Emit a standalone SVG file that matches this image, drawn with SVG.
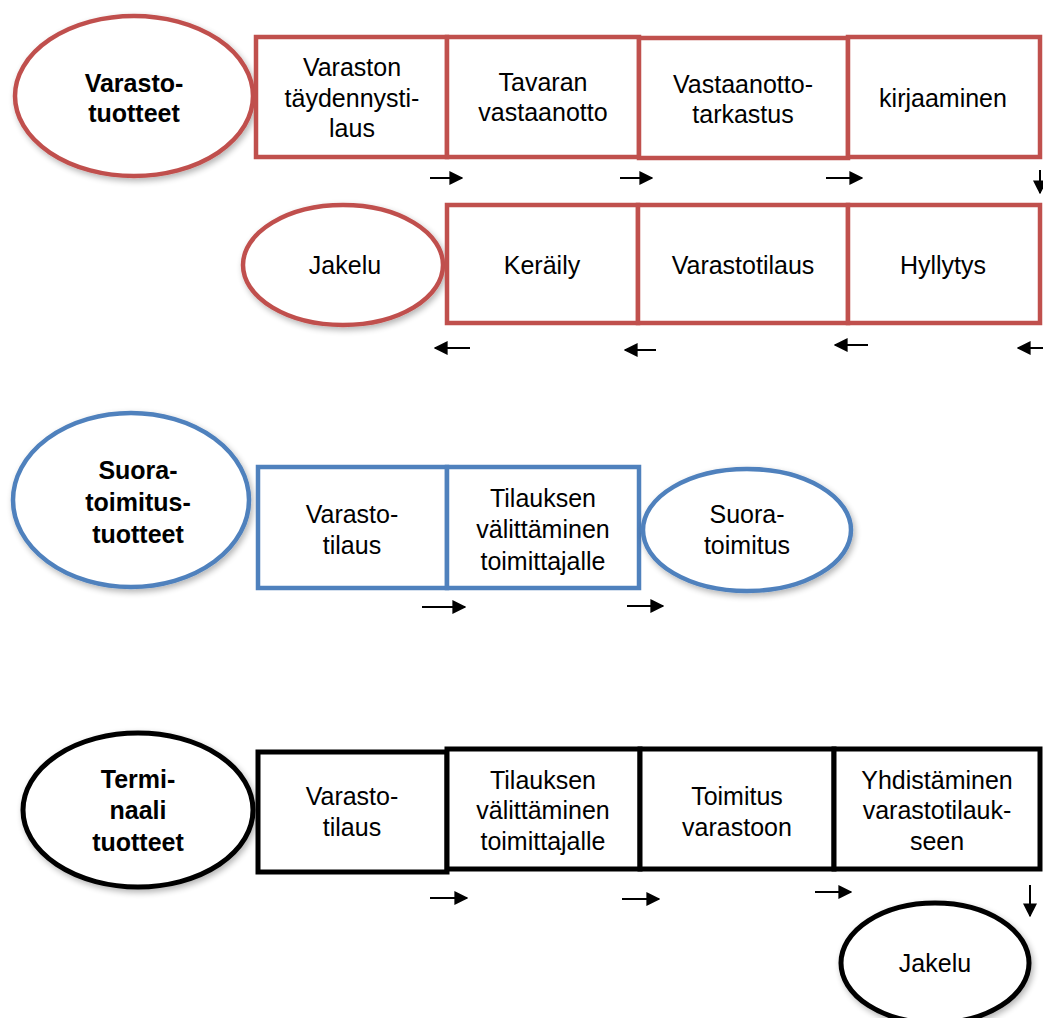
<svg xmlns="http://www.w3.org/2000/svg" width="1043" height="1018" viewBox="0 0 1043 1018">
<style>
text{font-family:"Liberation Sans",Arial,sans-serif;font-size:25px;fill:#000;text-anchor:middle}
.b{font-weight:bold}
.red{fill:#fff;stroke:#C0504D;stroke-width:4.5}
.blue{fill:#fff;stroke:#4F81BD;stroke-width:4.5}
.blk{fill:#fff;stroke:#000;stroke-width:5}
.arr{stroke:#000;stroke-width:2;fill:none;marker-end:url(#ah)}
</style>
<defs>
<marker id="ah" viewBox="0 0 10 10" refX="9" refY="5" markerWidth="7" markerHeight="7" markerUnits="strokeWidth" orient="auto"><path d="M0,0 L10,5 L0,10 z" fill="#000"/></marker>
<filter id="sh" x="-10%" y="-10%" width="130%" height="130%"><feGaussianBlur in="SourceAlpha" stdDeviation="3"/><feOffset dx="2" dy="3"/><feComponentTransfer><feFuncA type="linear" slope="0.3"/></feComponentTransfer><feMerge><feMergeNode/><feMergeNode in="SourceGraphic"/></feMerge></filter>
</defs>

<g id="varastotuotteet"><ellipse class="red" filter="url(#sh)" cx="134" cy="96" rx="119" ry="80"/><text class="b" x="134" y="92">Varasto-</text><text class="b" x="134" y="122">tuotteet</text></g>
<g id="taydennystilaus"><rect class="red" x="256" y="37" width="191" height="120"/><text x="352" y="76">Varaston</text><text x="352" y="107">täydennysti-</text><text x="352" y="137">laus</text></g>
<g id="vastaanotto"><rect class="red" x="447" y="37" width="192" height="120"/><text x="543" y="91">Tavaran</text><text x="543" y="121">vastaanotto</text></g>
<g id="tarkastus"><rect class="red" x="639" y="38" width="209" height="120"/><text x="743" y="93">Vastaanotto-</text><text x="743" y="123">tarkastus</text></g>
<g id="kirjaaminen"><rect class="red" x="848" y="37" width="192" height="120"/><text x="943" y="107">kirjaaminen</text></g>

<g id="jakelu1"><ellipse class="red" filter="url(#sh)" cx="343" cy="265" rx="100" ry="60"/><text x="345" y="274">Jakelu</text></g>
<g id="kerailly"><rect class="red" x="447" y="205" width="191" height="118"/><text x="542" y="274">Keräily</text></g>
<g id="varastotilaus1"><rect class="red" x="638" y="205" width="210" height="118"/><text x="743" y="274">Varastotilaus</text></g>
<g id="hyllytys"><rect class="red" x="848" y="205" width="192" height="118"/><text x="943" y="274">Hyllytys</text></g>

<g id="suoratoimitustuotteet"><ellipse class="blue" filter="url(#sh)" cx="131" cy="500" rx="118" ry="87"/><text class="b" x="138" y="479">Suora-</text><text class="b" x="138" y="511">toimitus-</text><text class="b" x="138" y="543">tuotteet</text></g>
<g id="varastotilaus2"><rect class="blue" x="258" y="467" width="189" height="121"/><text x="352" y="523">Varasto-</text><text x="352" y="554">tilaus</text></g>
<g id="valittaminen1"><rect class="blue" x="447" y="467" width="192" height="121"/><text x="543" y="507">Tilauksen</text><text x="543" y="538">välittäminen</text><text x="543" y="570">toimittajalle</text></g>
<g id="suoratoimitus"><ellipse class="blue" filter="url(#sh)" cx="747" cy="530" rx="104" ry="61"/><text x="747" y="523">Suora-</text><text x="747" y="554">toimitus</text></g>

<g id="terminaalituotteet"><ellipse class="blk" filter="url(#sh)" cx="138" cy="810" rx="115" ry="77"/><text class="b" x="138" y="788">Termi-</text><text class="b" x="138" y="819">naali</text><text class="b" x="138" y="851">tuotteet</text></g>
<g id="varastotilaus3"><rect class="blk" x="258" y="752" width="189" height="120"/><text x="352" y="805">Varasto-</text><text x="352" y="836">tilaus</text></g>
<g id="valittaminen2"><rect class="blk" x="447" y="749" width="193" height="120"/><text x="543" y="789">Tilauksen</text><text x="543" y="819">välittäminen</text><text x="543" y="850">toimittajalle</text></g>
<g id="toimitusvarastoon"><rect class="blk" x="640" y="749" width="194" height="120"/><text x="737" y="805">Toimitus</text><text x="737" y="836">varastoon</text></g>
<g id="yhdistaminen"><rect class="blk" x="834" y="749" width="206" height="120"/><text x="937" y="789">Yhdistäminen</text><text x="937" y="819">varastotilauk-</text><text x="937" y="850">seen</text></g>
<g id="jakelu2"><ellipse class="blk" filter="url(#sh)" cx="935" cy="963" rx="94" ry="60"/><text x="935" y="972">Jakelu</text></g>

<g id="connectors">
<line class="arr" x1="430" y1="178" x2="462" y2="178"/>
<line class="arr" x1="620" y1="178" x2="652" y2="178"/>
<line class="arr" x1="826" y1="178" x2="862" y2="178"/>
<line class="arr" x1="1040" y1="170" x2="1040" y2="193"/>
<line class="arr" x1="470" y1="348" x2="435" y2="348"/>
<line class="arr" x1="656" y1="350" x2="625" y2="350"/>
<line class="arr" x1="868" y1="345" x2="835" y2="345"/>
<line class="arr" x1="1043" y1="348" x2="1018" y2="348"/>
<line class="arr" x1="422" y1="607" x2="465" y2="607"/>
<line class="arr" x1="627" y1="606" x2="663" y2="606"/>
<line class="arr" x1="430" y1="898" x2="467" y2="898"/>
<line class="arr" x1="622" y1="899" x2="659" y2="899"/>
<line class="arr" x1="815" y1="892" x2="851" y2="892"/>
<line class="arr" x1="1030" y1="885" x2="1030" y2="916"/>
</g>
</svg>
